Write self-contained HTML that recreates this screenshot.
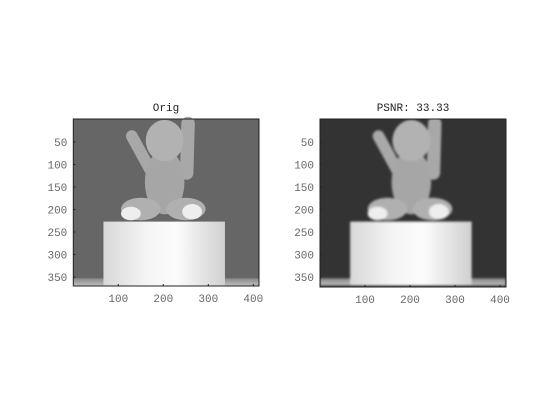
<!DOCTYPE html>
<html><head><meta charset="utf-8"><style>
html,body{margin:0;background:#fff;overflow:hidden;}
svg{display:block;}
svg text{font-family:"Liberation Mono",monospace;font-size:11px;fill:#666;}
</style></head><body>
<svg width="560" height="420" viewBox="0 0 560 420" xmlns="http://www.w3.org/2000/svg">
<defs>
<linearGradient id="cyl" x1="0" x2="1" y1="0" y2="0">
<stop offset="0" stop-color="#d8d8d8"/><stop offset="0.35" stop-color="#f4f4f4"/><stop offset="0.6" stop-color="#fcfcfc"/><stop offset="1" stop-color="#d0d0d0"/></linearGradient>
<linearGradient id="floor" x1="0" x2="0" y1="0" y2="1"><stop offset="0" stop-color="#888"/><stop offset="1" stop-color="#bbb"/></linearGradient>
<filter id="bl"><feGaussianBlur stdDeviation="2.5"/></filter>
<g id="baby">
<line x1="130" y1="38" x2="172" y2="115" stroke="#a8a8a8" stroke-width="26" stroke-linecap="round"/>
<line x1="255" y1="10" x2="252" y2="120" stroke="#a8a8a8" stroke-width="30" stroke-linecap="round"/>
<ellipse cx="203" cy="140" rx="44" ry="72" fill="#a6a6a6"/>
<ellipse cx="203" cy="48" rx="42" ry="46" fill="#b2b2b2"/>
<ellipse cx="150" cy="200" rx="44" ry="25" fill="#b0b0b0"/>
<ellipse cx="250" cy="200" rx="44" ry="25" fill="#b0b0b0"/>
<ellipse cx="128" cy="210" rx="22" ry="15" fill="#eee"/>
<ellipse cx="264" cy="206" rx="22" ry="17" fill="#eee"/>
<rect x="0" y="354" width="413" height="16" fill="url(#floor)"/>
<rect x="67" y="228" width="270" height="142" fill="url(#cyl)"/>
</g>
</defs>
<g>
<rect x="73.3" y="119" width="185.7" height="167" fill="#666"/>
<g transform="translate(73.3,119) scale(0.45)"><use href="#baby"/></g>
<rect x="73.3" y="119" width="185.7" height="167" fill="none" stroke="#222" stroke-width="1"/>
<text x="166" y="111" text-anchor="middle" font-size="12" style="fill:#222">Orig</text>
</g>
<g>
<clipPath id="cp"><rect x="320" y="119" width="186" height="168"/></clipPath>
<rect x="320" y="119" width="186" height="168" fill="#333"/>
<g clip-path="url(#cp)"><g filter="url(#bl)" transform="translate(320,119) scale(0.45)"><use href="#baby"/></g></g>
<rect x="320" y="119" width="186" height="168" fill="none" stroke="#222" stroke-width="1"/>
<text x="413" y="111" text-anchor="middle" font-size="12" style="fill:#222">PSNR: 33.33</text>
</g>
<g id="ticks"></g>
<script>
const yTicks=[50,100,150,200,250,300,350];
const xTicks=[100,200,300,400];
const panels=[{x0:73.3,y0:119.5,b:286},{x0:320,y0:119.5,b:287}];
const g=document.getElementById('ticks');
const NS='http://www.w3.org/2000/svg';
panels.forEach((p,i)=>{
 yTicks.forEach(v=>{const y=p.y0+v*0.45;
  const t=document.createElementNS(NS,'text');t.setAttribute('x',p.x0-6);t.setAttribute('y',y+4);t.setAttribute('text-anchor','end');t.textContent=v;
  
  
  g.appendChild(t);
  const l=document.createElementNS(NS,'line');l.setAttribute('x1',p.x0);l.setAttribute('x2',p.x0+2);l.setAttribute('y1',y);l.setAttribute('y2',y);l.setAttribute('stroke','#222');
  
  
  g.appendChild(l);});
 xTicks.forEach(v=>{const x=p.x0+v*0.45;
  const t=document.createElementNS(NS,'text');t.setAttribute('x',x);t.setAttribute('y',p.b+16);t.setAttribute('text-anchor','middle');t.textContent=v;
  
  
  g.appendChild(t);
  const l=document.createElementNS(NS,'line');l.setAttribute('x1',x);l.setAttribute('x2',x);l.setAttribute('y1',p.b);l.setAttribute('y2',p.b-2);l.setAttribute('stroke','#222');
  
  
  g.appendChild(l);});
});
</script>
</svg>
</body></html>
